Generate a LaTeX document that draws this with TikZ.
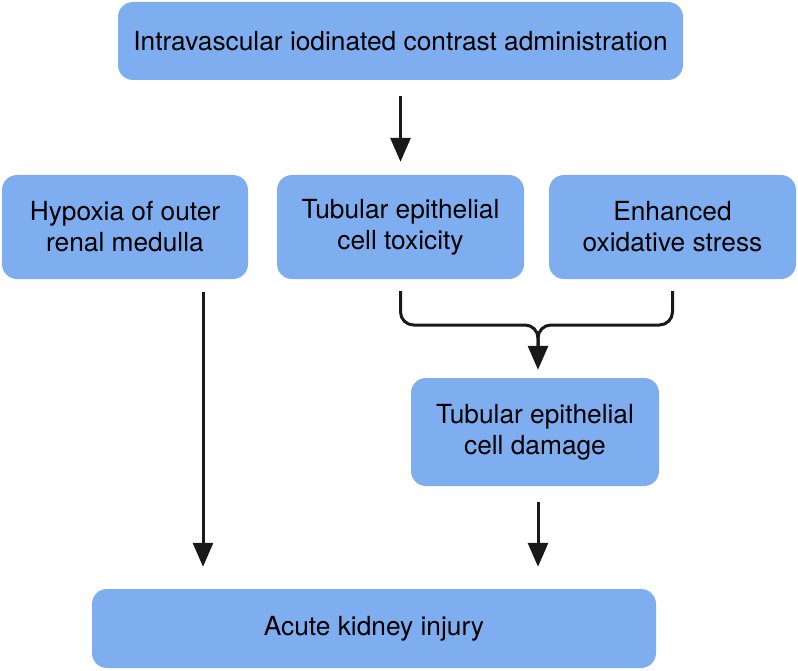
\documentclass[tikz,border=0pt]{standalone}
\usepackage{fontspec}
\setmainfont{TeX Gyre Heros}
\usetikzlibrary{arrows.meta}
\definecolor{boxblue}{RGB}{127,174,240}
\tikzset{
  box/.style={fill=boxblue, rounded corners=15pt, inner sep=0pt, align=center,
    font=\fontsize{26.3}{31}\selectfont, text=black},
  arr/.style={line width=3pt, -{Triangle[width=20pt,length=24pt]}, draw=black!90}
}
\begin{document}
\begin{tikzpicture}[x=1pt,y=-1pt]
\useasboundingbox (0,0) rectangle (798,671);
\node[box, minimum width=565pt, minimum height=78pt] (top) at (400.5,41) {Intravascular iodinated contrast administration};
\node[box, minimum width=246pt, minimum height=104pt] (hyp) at (125,227) {Hypoxia of outer\\renal medulla};
\node[box, minimum width=247pt, minimum height=104pt] (tox) at (400.5,227) {Tubular epithelial\\cell toxicity};
\node[box, minimum width=247pt, minimum height=104pt] (oxi) at (672.5,227) {Enhanced\\oxidative stress};
\node[box, minimum width=248pt, minimum height=108pt] (dam) at (535,432) {Tubular epithelial\\cell damage};
\node[box, minimum width=564pt, minimum height=79pt] (aki) at (374,628.5) {Acute kidney injury};
\coordinate (lx) at (203,0);
\coordinate (mx) at (538,0);
\coordinate (jn) at (538,325);
\draw[arr, shorten <=16pt, shorten >=13pt] (top.south) -- (tox.north);
\draw[arr, shorten <=13pt, shorten >=22pt] (hyp.south -| lx) -- (aki.north -| lx);
\draw[arr, shorten <=16pt, shorten >=22pt] (dam.south -| mx) -- (aki.north -| mx);
\draw[line width=3pt, draw=black!90, rounded corners=13pt, shorten <=12pt, shorten >=30pt] (tox.south) |- (jn) -- (jn |- dam.north);
\draw[arr, rounded corners=13pt, shorten <=12pt, shorten >=8pt] (oxi.south) |- (jn) -- (jn |- dam.north);
\end{tikzpicture}
\end{document}
